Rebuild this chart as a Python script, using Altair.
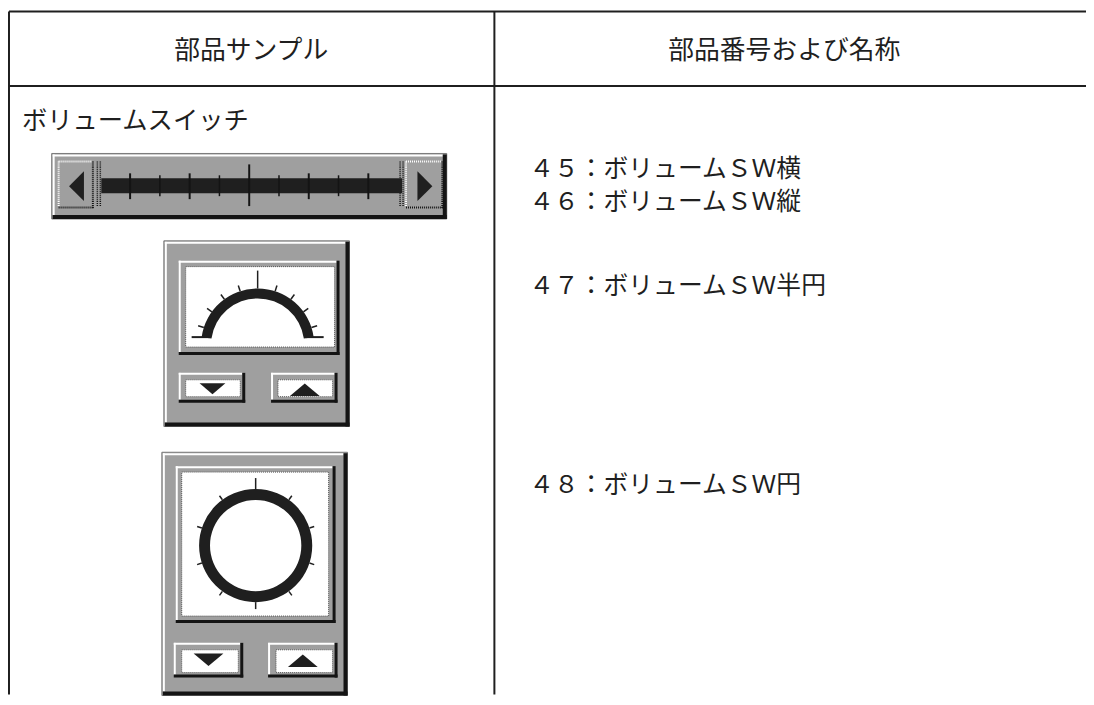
import math
import altair as alt
import pandas as pd

# ---------------- canvas ----------------
W, H = 1086, 689                      # plot area (page x 8..1094, y 8..697)
FONT = "Noto Sans CJK JP"
INK = "#1f1f1f"
DITHER = "#9f9f9f"
SHADOW = "#141414"

# ---------------- table text ----------------
header_labels = ["部品サンプル", "部品番号および名称"]
header_x = [253, 790]
header_y = [47, 47]

section_labels = ["ボリュームスイッチ"]
section_x = [22]
section_y = [117]

part_labels = ["４５：ボリュームＳＷ横", "４６：ボリュームＳＷ縦",
               "４７：ボリュームＳＷ半円", "４８：ボリュームＳＷ円"]
part_x = [533, 533, 533, 533]
part_y = [166, 199, 284, 484]

# ---------------- table grid ----------------
grid_h_y = [9, 84]
grid_v_x = [9, 498]

# ---------------- widget boxes (x0, x1, y0, y1) ----------------
body_boxes = [(52, 450, 152, 218),      # horizontal slider
              (165, 352, 240, 427),     # half-circle gauge
              (163, 350, 453, 698)]     # circle gauge
frame_boxes = [(180, 342, 260, 355), (180, 247, 373, 403), (273, 340, 373, 403),
               (177, 338, 467, 625), (175, 245, 645, 680), (270, 340, 645, 680)]
white_boxes = [(187, 337, 266, 347), (187, 242, 380, 397), (280, 335, 380, 397),
               (183, 331, 473, 618), (183, 240, 652, 675), (278, 335, 652, 675)]
slider_buttons = [(57, 95, 158, 208), (407, 447, 158, 208)]

# slider track and scale ticks
track = [(102, 405, 177, 192)]
tick_major_x = [131, 191, 311, 371]
tick_center_x = [251]
tick_minor_x = [161, 221, 281, 341]
slider_dots_x = [98, 101, 403, 406]

# gauges: centre, radii, angle span (degrees, clockwise from 12 o'clock)
gauge_cx = [259.5, 257.5]
gauge_cy = [345, 547]
gauge_r_in = [47, 46]
gauge_r_out = [57, 57]
gauge_a0 = [-82, 0]
gauge_a1 = [82, 360]

semi_tick_angles = [-72, -54, -36, -18, 0, 18, 36, 54, 72]
semi_tick_len = [6, 6, 6, 6, 18, 6, 6, 6, 6]
circle_tick_angles = [0, 36, 72, 108, 144, 180, 216, 252, 288, 324]
circle_tick_len = [11, 5, 5, 5, 5, 7, 5, 5, 5, 5]
semi_feet = [(193, 211, 337), (308, 326, 337)]

# arrows: (x, y, width, kind)
arrows = [(77, 185, 30, "left"), (428, 185, 30, "right"),
          (214, 389, 26, "down"), (307, 390, 30, "up"),
          (210, 662, 30, "down"), (305, 663, 30, "up")]
arrow_paths = {
    "left": "M0.5,-1L0.5,1L-0.5,0Z",
    "right": "M-0.5,-1L-0.5,1L0.5,0Z",
    "down": "M-1,-0.42L1,-0.42L0,0.42Z",
    "up": "M-1,0.42L1,0.42L0,-0.42Z",
}

# ---------------- helpers ----------------
XS = alt.Scale(domain=[8, 8 + W], nice=False, zero=False)
YS = alt.Scale(domain=[8, 8 + H], nice=False, zero=False, reverse=True)


def X(f):
    return alt.X(f, type="quantitative", scale=XS, axis=None)


def Y(f):
    return alt.Y(f, type="quantitative", scale=YS, axis=None)


def rule_layer(rows, dash=None):
    df = pd.DataFrame(rows, columns=["x", "x2", "y", "y2", "c", "w"])
    kw = {}
    if dash:
        kw["strokeDash"] = dash
    return alt.Chart(df).mark_rule(**kw).encode(
        x=X("x"), x2="x2", y=Y("y"), y2="y2",
        color=alt.Color("c:N", scale=None),
        strokeWidth=alt.StrokeWidth("w:Q", scale=None),
    )


def rect_layer(boxes, fill, stroke=None, sw=0, dash=None):
    df = pd.DataFrame(boxes, columns=["x0", "x1", "y0", "y1"])
    kw = dict(color=fill)
    if stroke:
        kw.update(stroke=stroke, strokeWidth=sw)
    if dash:
        kw["strokeDash"] = dash
    return alt.Chart(df).mark_rect(**kw).encode(
        x=X("x0"), x2="x1", y=Y("y0"), y2="y1")


def bevel(boxes, hi_w, sh_w, inset):
    rows = []
    for x0, x1, y0, y1 in boxes:
        rows.append((x0 + inset, x1 - sh_w, y0 + inset + hi_w / 2, y0 + inset + hi_w / 2, "white", hi_w))
        rows.append((x0 + inset + hi_w / 2, x0 + inset + hi_w / 2, y0 + inset, y1 - sh_w, "white", hi_w))
        rows.append((x0 + inset, x1, y1 - sh_w / 2, y1 - sh_w / 2, SHADOW, sh_w))
        rows.append((x1 - sh_w / 2, x1 - sh_w / 2, y0 + inset, y1, SHADOW, sh_w))
    return rule_layer(rows)


layers = []

# table grid
grid_rows = [(9, 8 + W, y, y, INK, 2) for y in grid_h_y] + \
            [(x, x, 9, 8 + H, INK, 2) for x in grid_v_x]
layers.append(rule_layer(grid_rows))

# texts
txt = pd.DataFrame({"x": header_x, "y": [v + 2 for v in header_y], "t": header_labels})
layers.append(alt.Chart(txt).mark_text(font=FONT, fontSize=26, align="center",
                                       baseline="middle", color=INK)
              .encode(x=X("x"), y=Y("y"), text="t:N"))
txt_s = pd.DataFrame({"x": section_x, "y": [v + 2 for v in section_y], "t": section_labels})
layers.append(alt.Chart(txt_s).mark_text(font=FONT, fontSize=25.5, align="left",
                                         baseline="middle", color=INK)
              .encode(x=X("x"), y=Y("y"), text="t:N"))
txt_p = pd.DataFrame({"x": part_x, "y": [v + 2 for v in part_y], "t": part_labels})
layers.append(alt.Chart(txt_p).mark_text(font=FONT, fontSize=25, align="left",
                                         baseline="middle", color=INK)
              .encode(x=X("x"), y=Y("y"), text="t:N"))

# widget bodies
layers.append(rect_layer(body_boxes, DITHER, stroke="#7a7a7a", sw=1))
layers.append(bevel(body_boxes, 2, 4, 1))

# raised frames with white insets
layers.append(rect_layer(frame_boxes, DITHER))
layers.append(bevel(frame_boxes, 2, 3, 0))
layers.append(rect_layer(white_boxes, "white"))
layers.append(rect_layer(white_boxes, "none", stroke="#555555", sw=1, dash=[1, 1]))

# slider buttons (dotted bevel)
btn_hi, btn_sh = [], []
for x0, x1, y0, y1 in slider_buttons:
    btn_hi += [(x0 + 2, x1 - 2, y0 + 2, y0 + 2, "white", 2), (x0 + 2, x0 + 2, y0 + 2, y1 - 2, "white", 2)]
    btn_sh += [(x0 + 2, x1 - 1, y1 - 1.5, y1 - 1.5, SHADOW, 2), (x1 - 1.5, x1 - 1.5, y0 + 2, y1 - 1, SHADOW, 2)]
layers.append(rule_layer(btn_hi, dash=[1, 1]))
layers.append(rule_layer(btn_sh, dash=[1, 1]))
layers.append(rule_layer([(x, x, 160, 206, SHADOW, 1.5) for x in slider_dots_x], dash=[1, 1]))

# slider track & ticks
layers.append(rect_layer(track, INK))
tick_rows = [(x, x, 163, 205, SHADOW, 2) for x in tick_center_x] + \
            [(x, x, 172, 198, SHADOW, 2) for x in tick_major_x] + \
            [(x, x, 174, 195, SHADOW, 1.5) for x in tick_minor_x]
layers.append(rule_layer(tick_rows))

# gauges
g = pd.DataFrame({"cx": gauge_cx, "cy": gauge_cy, "r0": gauge_r_in, "r1": gauge_r_out,
                  "t0": [a * math.pi / 180 for a in gauge_a0],
                  "t1": [a * math.pi / 180 for a in gauge_a1]})
layers.append(alt.Chart(g).mark_arc(color=INK).encode(
    x=X("cx"), y=Y("cy"),
    theta=alt.Theta("t0:Q", scale=None), theta2=alt.Theta2("t1"),
    radius=alt.Radius("r1:Q", scale=None), radius2=alt.Radius2("r0")))

ticks = pd.DataFrame({
    "cx": [gauge_cx[0]] * len(semi_tick_angles) + [gauge_cx[1]] * len(circle_tick_angles),
    "cy": [gauge_cy[0]] * len(semi_tick_angles) + [gauge_cy[1]] * len(circle_tick_angles),
    "r": [gauge_r_out[0]] * len(semi_tick_angles) + [gauge_r_out[1]] * len(circle_tick_angles),
    "a": semi_tick_angles + circle_tick_angles,
    "len": semi_tick_len + circle_tick_len,
})
layers.append(alt.Chart(ticks).transform_calculate(
    xa="datum.cx + datum.r * sin(datum.a * PI / 180)",
    ya="datum.cy - datum.r * cos(datum.a * PI / 180)",
    xb="datum.cx + (datum.r + datum.len) * sin(datum.a * PI / 180)",
    yb="datum.cy - (datum.r + datum.len) * cos(datum.a * PI / 180)",
).mark_rule(color=INK, strokeWidth=1.5).encode(
    x=X("xa:Q"), x2="xb:Q", y=Y("ya:Q"), y2="yb:Q"))

layers.append(rule_layer([(a, b, y, y, INK, 2) for a, b, y in semi_feet]))

# arrows
arr = pd.DataFrame({"x": [a[0] for a in arrows], "y": [a[1] for a in arrows],
                    "size": [a[2] ** 2 for a in arrows],
                    "shape": [arrow_paths[a[3]] for a in arrows]})
layers.append(alt.Chart(arr).mark_point(filled=True, opacity=1, color=INK, strokeWidth=0)
              .encode(x=X("x"), y=Y("y"),
                      shape=alt.Shape("shape:N", scale=None),
                      size=alt.Size("size:Q", scale=None)))

chart = alt.layer(*layers).properties(
    width=W, height=H, autosize=alt.AutoSizeParams(type="none"), padding=0,
).configure_view(stroke=None)

chart.save("out.html", embed_options={"renderer": "svg", "actions": False})
